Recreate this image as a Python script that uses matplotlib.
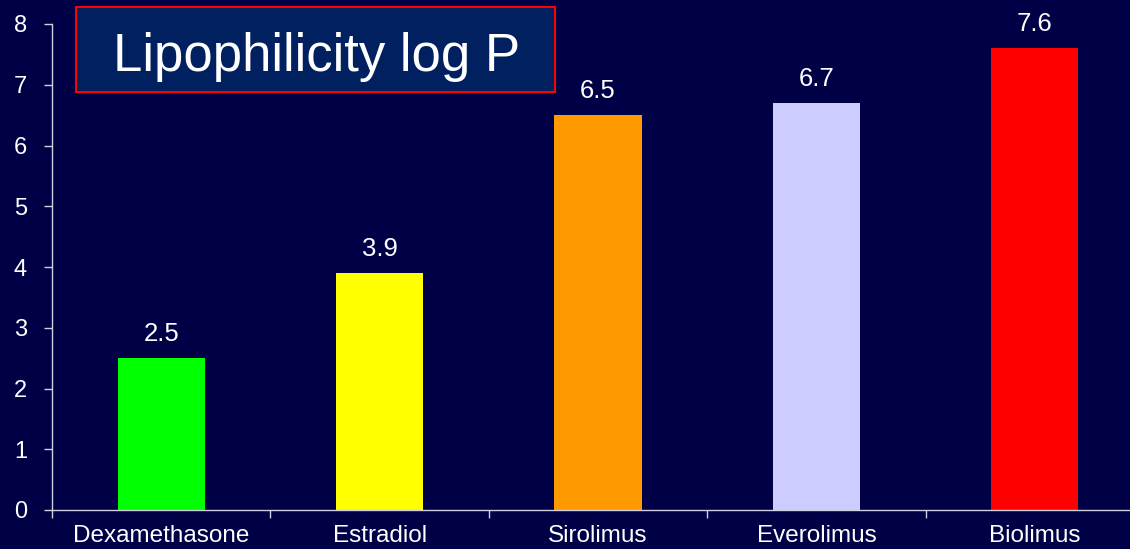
import matplotlib
matplotlib.use("Agg")
import matplotlib.pyplot as plt
from matplotlib.patches import Rectangle

categories = ["Dexamethasone", "Estradiol", "Sirolimus", "Everolimus", "Biolimus"]
values = [2.5, 3.9, 6.5, 6.7, 7.6]
colors = ["#00ff00", "#ffff00", "#ff9900", "#ccccff", "#ff0000"]
yticks = [0, 1, 2, 3, 4, 5, 6, 7, 8]
title = "Lipophilicity log P"

plt.rcParams['font.family'] = ['Liberation Sans', 'DejaVu Sans']
bg = "#000046"
fig = plt.figure(figsize=(11.30, 5.49), dpi=100, facecolor=bg)
ax = fig.add_axes([52/1130, 39/549, 1092/1130, 486/549], facecolor=bg)

x = list(range(len(categories)))
ax.bar(x, values, width=0.40, color=colors, zorder=2)
ax.set_xlim(-0.5, len(categories) - 0.5)
ax.set_ylim(0, 8)
ax.set_yticks(yticks)
ax.set_yticklabels([str(t) for t in yticks])
ax.set_xticks(x)
ax.set_xticklabels(categories)
ax.tick_params(axis='x', length=0, pad=11, labelsize=17.5, colors='white')
ax.set_xticks([i - 0.5 for i in x] + [len(categories) - 0.5], minor=True)
ax.tick_params(axis='x', which='minor', length=6, width=1, color='#d0d0e0', direction='out')
ax.tick_params(axis='y', length=6, width=1, color='#d0d0e0', labelsize=17, labelcolor='white', pad=12)

for s in ['top', 'right']:
    ax.spines[s].set_visible(False)
for s in ['left', 'bottom']:
    ax.spines[s].set_color('#d0d0e0')
    ax.spines[s].set_linewidth(1)

for xi, v in zip(x, values):
    ax.annotate(f"{v}", (xi, v), xytext=(0, 12.5), textcoords='offset points',
                ha='center', va='baseline', color='white', fontsize=18.5)

fig.patches.append(Rectangle((76/1130, 1 - 92.3/549), 479/1130, 85/549,
                             transform=fig.transFigure, facecolor='#002060',
                             edgecolor='#ff0000', linewidth=1.5, zorder=5))
fig.text(316.5/1130, 1 - 70.7/549, title, ha='center', va='baseline', color='white',
         fontsize=38, zorder=6)

fig.savefig("out.png", dpi=100, facecolor=bg)
